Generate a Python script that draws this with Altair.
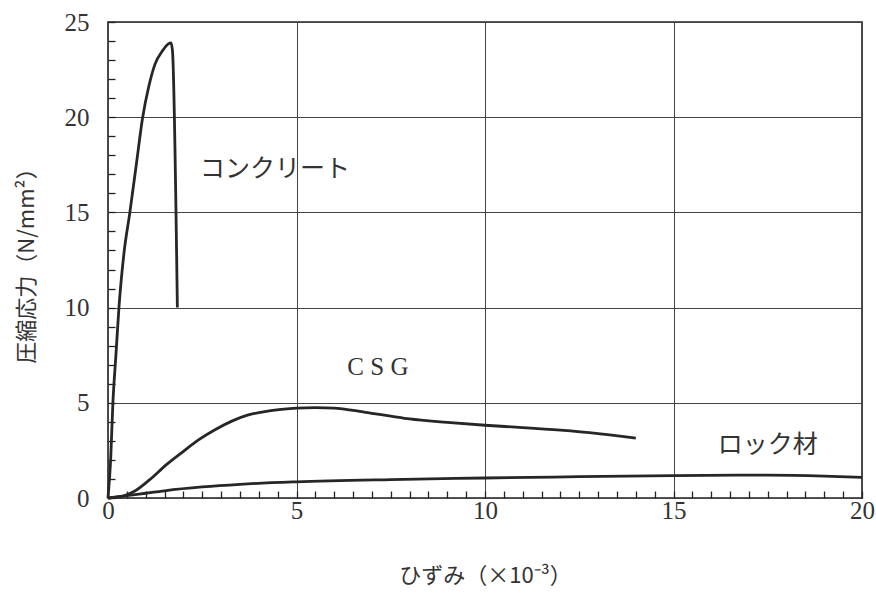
import altair as alt
import pandas as pd

# Concrete (コンクリート)
conc_x = [0, 0.07, 0.13, 0.21, 0.29, 0.42, 0.58, 0.75, 0.92, 1.08, 1.25, 1.45, 1.60, 1.67, 1.71, 1.84]
conc_y = [0, 2.0, 5.0, 7.5, 10.0, 12.8, 15.0, 17.5, 20.0, 21.6, 22.8, 23.5, 23.85, 23.9, 23.5, 10.0]

# CSG
csg_x = [0, 0.4, 0.7, 1.1, 1.55, 2.0, 2.4, 2.85, 3.3, 3.7, 4.2, 4.6, 5.0, 5.5, 6.0, 6.5, 7.0, 7.5, 8.0, 9.0, 10.0, 11.0, 12.0, 13.0, 14.0]
csg_y = [0, 0.1, 0.35, 0.95, 1.75, 2.45, 3.05, 3.6, 4.05, 4.35, 4.55, 4.65, 4.72, 4.75, 4.72, 4.6, 4.45, 4.3, 4.15, 3.97, 3.82, 3.7, 3.56, 3.38, 3.15]

# Rock material (ロック材)
rock_x = [0, 0.5, 1.0, 1.5, 2.5, 3.5, 5.0, 7.5, 10.0, 12.5, 15.0, 17.5, 19.0, 20.0]
rock_y = [0, 0.12, 0.25, 0.38, 0.58, 0.72, 0.85, 0.97, 1.05, 1.12, 1.18, 1.2, 1.15, 1.08]

label_text = ["コンクリート", "C S G", "ロック材"]
label_x = [4.43, 7.16, 17.5]
label_y = [17.3, 6.9, 2.8]
label_font = ["Noto Sans CJK JP", "Liberation Serif", "Noto Sans CJK JP"]

x_ticks = [i * 0.5 for i in range(41)]
y_ticks = list(range(26))

rows = []
for name, xs, ys in [("コンクリート", conc_x, conc_y), ("CSG", csg_x, csg_y), ("ロック材", rock_x, rock_y)]:
    for i, (a, b) in enumerate(zip(xs, ys)):
        rows.append({"series": name, "x": a, "y": b, "order": i})
df = pd.DataFrame(rows)
labels = pd.DataFrame({"text": label_text, "x": label_x, "y": label_y, "font": label_font})

major = "datum.value % 5 === 0"
major_label = "datum.value % 5 === 0 ? format(datum.value, 'd') : ''"

x_axis = alt.Axis(
    values=x_ticks,
    tickCount=len(x_ticks),
    offset=-7,
    tickSize=7,
    tickColor="#222",
    tickWidth=1.3,
    domain=False,
    grid=True,
    gridColor="#444",
    gridWidth=1,
    gridOpacity={"condition": {"test": major, "value": 1}, "value": 0},
    labelExpr=major_label,
    labelFont="Liberation Serif",
    labelFontSize=25,
    labelColor="#333",
    labelPadding=0,
    labelFlush=False,
    labelOverlap=False,
    title="ひずみ（×10⁻³）",
    titleFont="Noto Sans CJK JP",
    titleFontSize=22,
    titleFontWeight="normal",
    titleColor="#333",
    titlePadding=42,
)

y_axis = alt.Axis(
    values=y_ticks,
    tickCount=len(y_ticks),
    offset=-7,
    tickSize=7,
    tickColor="#222",
    tickWidth=1.3,
    domain=False,
    grid=True,
    gridColor="#444",
    gridWidth=1,
    gridOpacity={"condition": {"test": major, "value": 1}, "value": 0},
    labelExpr=major_label,
    labelFont="Liberation Serif",
    labelFontSize=25,
    labelColor="#333",
    labelPadding=19,
    labelFlush=False,
    labelOverlap=False,
    title="圧縮応力（N/mm²）",
    titleFont="Noto Sans CJK JP",
    titleFontSize=22,
    titleFontWeight="normal",
    titleColor="#333",
    titlePadding=26,
)

lines = alt.Chart(df).mark_line(color="#262626", strokeWidth=2.8, interpolate="monotone").encode(
    x=alt.X("x:Q", scale=alt.Scale(domain=[0, 20], nice=False), axis=x_axis),
    y=alt.Y("y:Q", scale=alt.Scale(domain=[0, 25], nice=False), axis=y_axis),
    detail="series:N",
    order="order:Q",
)

jp_labels = alt.Chart(labels[labels["font"] != "Liberation Serif"]).mark_text(
    font="Noto Sans CJK JP", fontSize=25, color="#333"
).encode(x="x:Q", y="y:Q", text="text:N")

csg_label = alt.Chart(labels[labels["font"] == "Liberation Serif"]).mark_text(
    font="Liberation Serif", fontSize=25, color="#333"
).encode(x="x:Q", y="y:Q", text="text:N")

chart = alt.layer(lines, jp_labels, csg_label).properties(
    width=754,
    height=476,
    autosize=alt.AutoSizeParams(type="none"),
    padding={"left": 108, "top": 22, "right": 14, "bottom": 106},
    background="white",
).configure_view(stroke="#222", strokeWidth=1.6)

chart.save("out.html", embed_options={"renderer": "svg", "actions": False})
